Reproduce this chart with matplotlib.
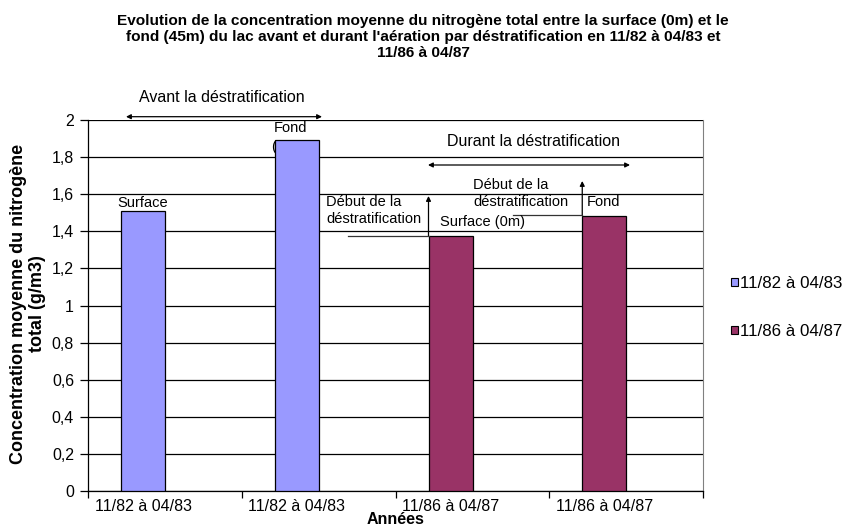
import matplotlib
matplotlib.use("Agg")
import matplotlib.pyplot as plt
from matplotlib.patches import Patch

plt.rcParams['font.family'] = ['Liberation Sans', 'DejaVu Sans']

# --- data ---------------------------------------------------------------
categories = ["11/82 à 04/83", "11/82 à 04/83", "11/86 à 04/87", "11/86 à 04/87"]
values = [1.51, 1.89, 1.375, 1.48]
periods = ["11/82 à 04/83", "11/86 à 04/87"]
period_of_bar = [0, 0, 1, 1]
bar_labels = ["Surface", "Fond", "Surface (0m)", "Fond"]
yticks = [0, 0.2, 0.4, 0.6, 0.8, 1.0, 1.2, 1.4, 1.6, 1.8, 2.0]
colors = ["#9999FF", "#993366"]

W, H = 846, 527
fig = plt.figure(figsize=(W / 100, H / 100), dpi=100)
L, R, T, B = 88, 703, 120, 491
ax = fig.add_axes([L / W, 1 - B / H, (R - L) / W, (B - T) / H])

n = len(categories)
ax.set_xlim(-0.5, n - 0.5)
ax.set_ylim(0, 2)

# pixel -> data helpers for the callouts
cw = (R - L) / n
def X(px):
    return (px - L) / cw - 0.5
def Y(py):
    return (B - py) / (B - T) * 2.0

bar_w = 44 / cw
offs = -0.5 + 55 / cw
xs = [i + offs for i in range(n)]
for x, v, p in zip(xs, values, period_of_bar):
    ax.bar(x, v, width=bar_w, color=colors[p], edgecolor="black",
           linewidth=0.9, zorder=3)

# grid and axes
ax.set_yticks(yticks)
ax.set_yticklabels([("%g" % t).replace(".", ",") for t in yticks], fontsize=11.5)
ax.yaxis.grid(True, color="black", linewidth=0.9, zorder=0)
ax.set_axisbelow(True)
ax.tick_params(axis="y", direction="out", length=6, width=0.9, pad=4)
ax.set_xticks([i - 0.5 for i in range(n + 1)])
ax.set_xticklabels([])
ax.tick_params(axis="x", which="major", direction="out", length=5, width=0.9)
ax.set_xticks(xs, minor=True)
ax.set_xticklabels(categories, minor=True, fontsize=11.5)
ax.tick_params(axis="x", which="minor", length=0, pad=6)
ax.spines["top"].set_visible(False)
ax.spines["right"].set_color("#808080")
ax.spines["left"].set_linewidth(0.9)
ax.spines["bottom"].set_linewidth(0.9)

# titles
fig.text(0.5, 1 - 37 / H,
         "Evolution de la concentration moyenne du nitrogène total entre la surface (0m) et le\n"
         "fond (45m) du lac avant et durant l'aération par déstratification en 11/82 à 04/83 et\n"
         "11/86 à 04/87",
         ha="center", va="center", fontsize=11.1, fontweight="bold", linespacing=1.2)
fig.text(28 / W, 1 - 304 / H, "Concentration moyenne du nitrogène\ntotal (g/m3)",
         rotation=90, ha="center", va="center", fontsize=13, fontweight="bold",
         multialignment="center", linespacing=1.15)
fig.text((L + R) / 2 / W, 1 - 520 / H, "Années", ha="center", va="center",
         fontsize=11.5, fontweight="bold")

# bar callouts
tk = dict(fontsize=10.5, zorder=5)
ax.text(xs[0], Y(203), bar_labels[0], ha="center", va="center", **tk)
ax.text(xs[1] - 0.04, Y(128), bar_labels[1], ha="center", va="center", clip_on=False, **tk)
ax.text(xs[1] - 0.04, Y(147), "(45m)", ha="center", va="center", fontsize=10.5, zorder=2)
ax.text(X(440), Y(222), bar_labels[2], ha="left", va="center", **tk)
ax.text(X(587), Y(202), bar_labels[3], ha="left", va="center", **tk)

# period spans
arrow_kw = dict(arrowstyle="<|-|>", color="black", lw=0.9, mutation_scale=7,
                shrinkA=0, shrinkB=0)
ax.annotate("", xy=(X(126), Y(116.7)), xytext=(X(322), Y(116.7)),
            arrowprops=arrow_kw, annotation_clip=False)
ax.text(X(222), Y(98), "Avant la déstratification", ha="center", va="center",
        fontsize=11.5, clip_on=False)
ax.annotate("", xy=(X(428), Y(165)), xytext=(X(630), Y(165)),
            arrowprops=arrow_kw, annotation_clip=False)
ax.text(X(533), Y(142), "Durant la déstratification", ha="center", va="center",
        fontsize=11.5)

# start-of-destratification markers
up_kw = dict(arrowstyle="-|>", color="black", lw=0.9, mutation_scale=7,
             shrinkA=0, shrinkB=0)
x3 = xs[2] - bar_w / 2
ax.plot([X(348), x3], [values[2], values[2]], color="#333333", lw=0.9, zorder=4)
ax.annotate("", xy=(x3, Y(196)), xytext=(x3, values[2]), arrowprops=up_kw)
ax.text(X(326), Y(210.5), "Début de la\ndéstratification", ha="left", va="center",
        fontsize=10.5, linespacing=1.25, zorder=5)
x4 = xs[3] - bar_w / 2
ax.plot([X(513), x4], [Y(215), Y(215)], color="#333333", lw=0.9, zorder=4)
ax.annotate("", xy=(x4, Y(181)), xytext=(x4, Y(215)), arrowprops=up_kw)
ax.text(X(473), Y(193.5), "Début de la\ndéstratification", ha="left", va="center",
        fontsize=10.5, linespacing=1.25, zorder=5)

# legend
handles = [Patch(facecolor=c, edgecolor="black", linewidth=0.8) for c in colors]
fig.legend(handles, periods, loc="center left", bbox_to_anchor=(731 / W, 1 - 307.5 / H),
           frameon=False, fontsize=12.2, handlelength=0.4, handleheight=0.4,
           handletextpad=0.12, labelspacing=1.95, borderaxespad=0, borderpad=0)

fig.savefig("out.png", dpi=100)
